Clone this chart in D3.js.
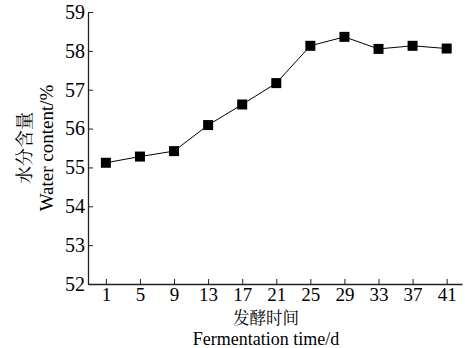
<!DOCTYPE html>
<html>
<head>
<meta charset="utf-8">
<script src="https://cdn.jsdelivr.net/npm/d3@7"></script>
<style>
  body { margin: 0; background: #fff; }
</style>
</head>
<body>
<div id="chart"></div>
<script>
// fermentation day and water content (%)
var days = [1, 5, 9, 13, 17, 21, 25, 29, 33, 37, 41];
var water = [55.12, 55.28, 55.42, 56.09, 56.62, 57.17, 58.13, 58.36, 58.05, 58.13, 58.06];
var yTicks = [52, 53, 54, 55, 56, 57, 58, 59];

var SERIF = "Liberation Serif, serif";
var CJK = "Noto Serif CJK SC, Noto Sans CJK SC, serif";

var W = 465, H = 348;
var margin = {top: 12, right: 3, bottom: 64, left: 88};
var width = W - margin.left - margin.right, height = H - margin.top - margin.bottom;

var svg = d3.select("#chart").append("svg")
    .attr("width", W).attr("height", H)
  .append("g")
    .attr("transform", "translate(" + margin.left + "," + margin.top + ")");

var x = d3.scaleLinear().domain([-1.1, 42.8]).range([0, width]);
var y = d3.scaleLinear().domain([52, 59]).range([height, 0]);

// x axis, ticks pointing inward
var xAxis = svg.append("g")
    .attr("transform", "translate(0," + height + ")")
    .call(d3.axisBottom(x).tickValues(days).tickFormat(d3.format("d"))
        .tickSizeInner(-5).tickSizeOuter(0).tickPadding(9));
xAxis.attr("font-family", null).attr("font-size", null);
xAxis.select(".domain").attr("stroke", "#222").attr("stroke-width", 1.3);
xAxis.selectAll(".tick line").attr("stroke", "#222");
xAxis.selectAll("text")
    .style("font-family", SERIF).style("font-size", "19px")
    .attr("fill", "#000").attr("dy", null).attr("y", 17);

// y axis
var yAxis = svg.append("g")
    .call(d3.axisLeft(y).tickValues(yTicks).tickFormat(d3.format("d"))
        .tickSizeInner(-5).tickSizeOuter(0).tickPadding(4));
yAxis.attr("font-family", null).attr("font-size", null);
yAxis.select(".domain").attr("stroke", "#222").attr("stroke-width", 1.3);
yAxis.selectAll(".tick line").attr("stroke", "#222");
yAxis.selectAll("text")
    .style("font-family", SERIF).style("font-size", "20px")
    .attr("fill", "#000").attr("x", -3);

var line = d3.line()
    .x(function(d, i) { return x(days[i]); })
    .y(function(d) { return y(d); });

svg.append("path")
    .datum(water)
    .attr("fill", "none")
    .attr("stroke", "#000")
    .attr("stroke-width", 1)
    .attr("d", line);

var s = 10;
svg.selectAll("rect.pt")
    .data(water)
    .enter().append("rect")
    .attr("class", "pt")
    .attr("x", function(d, i) { return x(days[i]) - s / 2; })
    .attr("y", function(d) { return y(d) - s / 2; })
    .attr("width", s).attr("height", s)
    .attr("fill", "#000");

// axis titles
var cx = width / 2 - 9;
svg.append("text")
    .attr("x", cx).attr("y", height + 40)
    .attr("text-anchor", "middle")
    .style("font-family", CJK).style("font-size", "16.5px")
    .text("发酵时间");
svg.append("text")
    .attr("x", cx).attr("y", height + 61)
    .attr("text-anchor", "middle")
    .style("font-family", SERIF).style("font-size", "18px")
    .text("Fermentation time/d");

var cy = height / 2;
svg.append("g")
    .attr("transform", "translate(" + (31 - margin.left) + "," + cy + ")")
  .append("text")
    .attr("transform", "rotate(-90)")
    .attr("text-anchor", "middle")
    .style("font-family", CJK).style("font-size", "18px")
    .text("水分含量");
svg.append("g")
    .attr("transform", "translate(" + (53 - margin.left) + "," + cy + ")")
  .append("text")
    .attr("transform", "rotate(-90)")
    .attr("text-anchor", "middle")
    .style("font-family", SERIF).style("font-size", "19px")
    .text("Water content/%");
</script>
</body>
</html>
